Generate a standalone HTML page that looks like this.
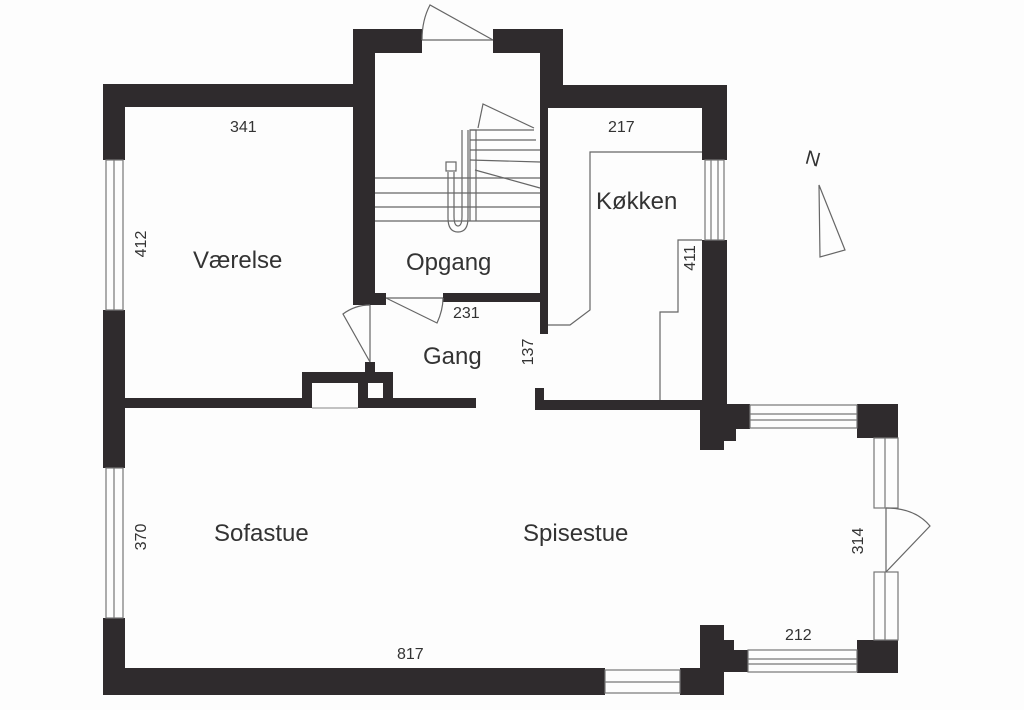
<!DOCTYPE html>
<html><head><meta charset="utf-8"><style>
html,body{margin:0;padding:0;background:#fdfdfd;}
svg{display:block}
text{font-family:"Liberation Sans",sans-serif;fill:#333}
</style></head><body>
<svg width="1024" height="710" viewBox="0 0 1024 710" xmlns="http://www.w3.org/2000/svg">
<rect width="1024" height="710" fill="#fdfdfd"/>
<g fill="#2f2b2d">
<!-- left outer wall -->
<rect x="103" y="84" width="22" height="76"/>
<rect x="103" y="310" width="22" height="158"/>
<rect x="103" y="618" width="22" height="76"/>
<!-- Værelse top wall -->
<rect x="103" y="84" width="272" height="23"/>
<!-- Opgang walls -->
<rect x="353" y="29" width="69" height="24"/>
<rect x="353" y="29" width="22" height="276"/>
<rect x="493" y="29" width="70" height="24"/>
<rect x="540" y="29" width="23" height="79"/>
<rect x="540" y="29" width="8" height="305"/>
<rect x="443" y="293" width="105" height="9"/>
<rect x="366" y="293" width="20" height="12"/>
<!-- kitchen top + right -->
<rect x="540" y="85" width="187" height="23"/>
<rect x="702" y="85" width="25" height="75"/>
<rect x="702" y="240" width="25" height="180"/>
<!-- horizontal wall Værelse / Sofastue -->
<rect x="125" y="398" width="351" height="10"/>
<rect x="302" y="372" width="91" height="36"/>
<rect x="365" y="362" width="10" height="12"/>
<!-- kitchen bottom wall -->
<rect x="535" y="388" width="9" height="22"/>
<rect x="535" y="400" width="192" height="10"/>
<!-- bay left upper block -->
<rect x="700" y="404" width="50" height="25"/>
<rect x="700" y="404" width="24" height="46"/>
<rect x="724" y="429" width="12" height="12"/>
<!-- NE block -->
<rect x="857" y="404" width="41" height="34"/>
<!-- SE block -->
<rect x="857" y="640" width="41" height="33"/>
<!-- bay left lower block -->
<rect x="700" y="625" width="24" height="70"/>
<rect x="724" y="640" width="10" height="10"/>
<rect x="724" y="650" width="24" height="22"/>
<rect x="680" y="668" width="44" height="27"/>
<!-- bottom wall -->
<rect x="103" y="668" width="502" height="27"/>
</g>
<!-- chimney inner whites -->
<rect x="312" y="383" width="46" height="25" fill="#fdfdfd"/>
<line x1="312" y1="408" x2="358" y2="408" stroke="#888" stroke-width="1"/>
<rect x="368" y="383" width="15" height="15" fill="#fdfdfd"/>
<g fill="#fdfdfd" stroke="#777" stroke-width="1.2">
<!-- left windows -->
<rect x="106" y="160" width="17" height="150"/>
<line x1="114" y1="160" x2="114" y2="310"/>
<rect x="106" y="468" width="17" height="150"/>
<line x1="114" y1="468" x2="114" y2="618"/>
<!-- kitchen window -->
<rect x="705" y="160" width="19" height="80"/>
<line x1="711" y1="160" x2="711" y2="240"/><line x1="718" y1="160" x2="718" y2="240"/>
<!-- bay windows -->
<rect x="750" y="405" width="107" height="23"/>
<line x1="750" y1="414" x2="857" y2="414"/><line x1="750" y1="420" x2="857" y2="420"/>
<rect x="748" y="650" width="109" height="22"/>
<line x1="748" y1="659" x2="857" y2="659"/><line x1="748" y1="664" x2="857" y2="664"/>
<rect x="874" y="438" width="24" height="70"/>
<line x1="885" y1="438" x2="885" y2="508"/>
<rect x="874" y="572" width="24" height="68"/>
<line x1="885" y1="572" x2="885" y2="640"/>
<!-- bottom window -->
<rect x="605" y="670" width="75" height="23"/>
<line x1="605" y1="682" x2="680" y2="682"/>
</g>
<g fill="none" stroke="#666" stroke-width="1.2">
<!-- entry door top -->
<line x1="422" y1="40" x2="493" y2="40"/>
<path d="M493 40 L430 5 Q422 20 422 40"/>
<!-- Opgang door -->
<line x1="386" y1="298" x2="443" y2="298"/>
<path d="M386 298 L437 323 Q443 310 443 298"/>
<!-- Værelse door -->
<line x1="370" y1="305" x2="370" y2="362"/>
<path d="M370 362 L343 314 Q355 305 370 305"/>
<!-- bay door -->
<line x1="886" y1="508" x2="886" y2="572"/>
<path d="M886 572 L930 526 Q915 508 886 508"/>
<!-- stairs -->
<line x1="375" y1="178" x2="540" y2="178"/>
<line x1="375" y1="193" x2="540" y2="193"/>
<line x1="375" y1="207" x2="540" y2="207"/>
<line x1="375" y1="221" x2="540" y2="221"/>
<line x1="470" y1="160" x2="540" y2="162"/>
<line x1="470" y1="150" x2="540" y2="150"/>
<line x1="470" y1="140" x2="536" y2="140"/>
<line x1="470" y1="130" x2="534" y2="130"/>
<line x1="475" y1="170" x2="540" y2="188"/>
<path d="M470 221 L470 130 L476 130 L476 221"/>
<path d="M448 172 L448 218 Q448 232 458 232 Q468 232 468 218 L468 130"/>
<path d="M454 172 L454 216 Q454 226 458 226 Q462 226 462 216 L462 130"/>
<rect x="446" y="162" width="10" height="9"/>
<path d="M478 128 L483 104 L534 128"/>
<!-- kitchen counters -->
<path d="M548 325 L570 325 L590 310 L590 152 L702 152"/>
<path d="M660 400 L660 312 L678 312 L678 240 L702 240"/>
<!-- north arrow -->
<path d="M819 185 L845 250 L820 257 Z"/>
</g>
<g font-size="16">
<text x="230" y="132">341</text>
<text x="608" y="132">217</text>
<text x="453" y="318">231</text>
<text x="785" y="640">212</text>
<text x="397" y="659">817</text>
<text transform="translate(146,244) rotate(-90)" text-anchor="middle">412</text>
<text transform="translate(146,537) rotate(-90)" text-anchor="middle">370</text>
<text transform="translate(695,258) rotate(-90)" text-anchor="middle">411</text>
<text transform="translate(533,352) rotate(-90)" text-anchor="middle">137</text>
<text transform="translate(863,541) rotate(-90)" text-anchor="middle">314</text>
</g>
<g font-size="24">
<text x="193" y="268">Værelse</text>
<text x="406" y="270">Opgang</text>
<text x="596" y="209">Køkken</text>
<text x="423" y="364">Gang</text>
<text x="214" y="541">Sofastue</text>
<text x="523" y="541">Spisestue</text>
</g>
<text x="806" y="166" font-size="20" transform="rotate(15 816 158)">N</text>
</svg>
</body></html>
